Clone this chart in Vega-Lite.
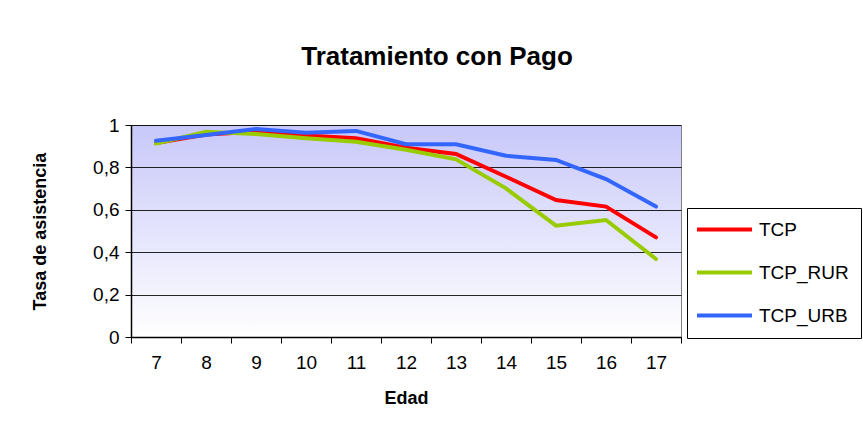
{
  "$schema": "https://vega.github.io/schema/vega-lite/v6.json",
  "width": 550,
  "height": 212,
  "autosize": {"type": "none"},
  "padding": {"left": 131, "top": 125, "right": 182, "bottom": 85},
  "background": "white",
  "title": {
    "text": "Tratamiento con Pago",
    "font": "Liberation Sans",
    "fontSize": 26,
    "fontWeight": "bold",
    "color": "#000000",
    "anchor": "middle",
    "frame": "group",
    "dx": 31,
    "offset": 46
  },
  "data": {
    "values": [
      {"edad": "7", "serie": "TCP", "valor": 0.915},
      {"edad": "8", "serie": "TCP", "valor": 0.955},
      {"edad": "9", "serie": "TCP", "valor": 0.968},
      {"edad": "10", "serie": "TCP", "valor": 0.950},
      {"edad": "11", "serie": "TCP", "valor": 0.937},
      {"edad": "12", "serie": "TCP", "valor": 0.893},
      {"edad": "13", "serie": "TCP", "valor": 0.863},
      {"edad": "14", "serie": "TCP", "valor": 0.756},
      {"edad": "15", "serie": "TCP", "valor": 0.646},
      {"edad": "16", "serie": "TCP", "valor": 0.615},
      {"edad": "17", "serie": "TCP", "valor": 0.470},
      {"edad": "7", "serie": "TCP_RUR", "valor": 0.912},
      {"edad": "8", "serie": "TCP_RUR", "valor": 0.968},
      {"edad": "9", "serie": "TCP_RUR", "valor": 0.957},
      {"edad": "10", "serie": "TCP_RUR", "valor": 0.937},
      {"edad": "11", "serie": "TCP_RUR", "valor": 0.921},
      {"edad": "12", "serie": "TCP_RUR", "valor": 0.883},
      {"edad": "13", "serie": "TCP_RUR", "valor": 0.838},
      {"edad": "14", "serie": "TCP_RUR", "valor": 0.701},
      {"edad": "15", "serie": "TCP_RUR", "valor": 0.525},
      {"edad": "16", "serie": "TCP_RUR", "valor": 0.552},
      {"edad": "17", "serie": "TCP_RUR", "valor": 0.368},
      {"edad": "7", "serie": "TCP_URB", "valor": 0.926},
      {"edad": "8", "serie": "TCP_URB", "valor": 0.953},
      {"edad": "9", "serie": "TCP_URB", "valor": 0.981},
      {"edad": "10", "serie": "TCP_URB", "valor": 0.964},
      {"edad": "11", "serie": "TCP_URB", "valor": 0.972},
      {"edad": "12", "serie": "TCP_URB", "valor": 0.909},
      {"edad": "13", "serie": "TCP_URB", "valor": 0.909},
      {"edad": "14", "serie": "TCP_URB", "valor": 0.855},
      {"edad": "15", "serie": "TCP_URB", "valor": 0.835},
      {"edad": "16", "serie": "TCP_URB", "valor": 0.745},
      {"edad": "17", "serie": "TCP_URB", "valor": 0.615}
    ]
  },
  "mark": {"type": "line", "strokeWidth": 4, "strokeCap": "round", "strokeJoin": "miter"},
  "encoding": {
    "x": {
      "field": "edad",
      "type": "ordinal",
      "sort": ["7", "8", "9", "10", "11", "12", "13", "14", "15", "16", "17"],
      "scale": {"type": "band", "paddingInner": 0, "paddingOuter": 0},
      "axis": {
        "title": "Edad",
        "labelAngle": 0,
        "tickBand": "extent",
        "tickSize": 6,
        "labelPadding": 10,
        "titlePadding": 17,
        "grid": false
      }
    },
    "y": {
      "field": "valor",
      "type": "quantitative",
      "scale": {"domain": [0, 1], "nice": false},
      "axis": {
        "title": "Tasa de asistencia",
        "values": [0, 0.2, 0.4, 0.6, 0.8, 1],
        "labelExpr": "replace(format(datum.value, '~g'), '.', ',')",
        "tickSize": 6,
        "labelPadding": 6,
        "titlePadding": 43,
        "grid": true
      }
    },
    "color": {
      "field": "serie",
      "type": "nominal",
      "scale": {"domain": ["TCP", "TCP_RUR", "TCP_URB"], "range": ["#FF0000", "#99CC00", "#3366FF"]},
      "legend": {
        "title": null,
        "orient": "none",
        "legendX": 556,
        "legendY": 83,
        "symbolType": "M-5.5,0H5.5",
        "symbolSize": 100,
        "symbolStrokeWidth": 4,
        "symbolOffset": 16,
        "labelOffset": 25,
        "rowPadding": 23,
        "padding": 12,
        "strokeColor": "#000000",
        "fillColor": "#FFFFFF"
      }
    }
  },
  "config": {
    "font": "Liberation Sans",
    "view": {
      "stroke": "#808080",
      "strokeWidth": 1,
      "fill": {
        "gradient": "linear",
        "x1": 0, "y1": 0, "x2": 0, "y2": 1,
        "stops": [
          {"offset": 0, "color": "#C8C8FA"},
          {"offset": 1, "color": "#FFFFFF"}
        ]
      }
    },
    "axis": {
      "labelFont": "Liberation Sans",
      "labelFontSize": 19,
      "labelColor": "#000000",
      "titleFont": "Liberation Sans",
      "titleFontSize": 18,
      "titleFontWeight": "bold",
      "titleColor": "#000000",
      "domainColor": "#000000",
      "domainWidth": 1.5,
      "tickColor": "#000000",
      "tickWidth": 1,
      "gridColor": "#000000",
      "gridWidth": 1,
      "gridOpacity": 0.85
    },
    "legend": {
      "labelFont": "Liberation Sans",
      "labelFontSize": 19,
      "labelColor": "#000000"
    }
  }
}
